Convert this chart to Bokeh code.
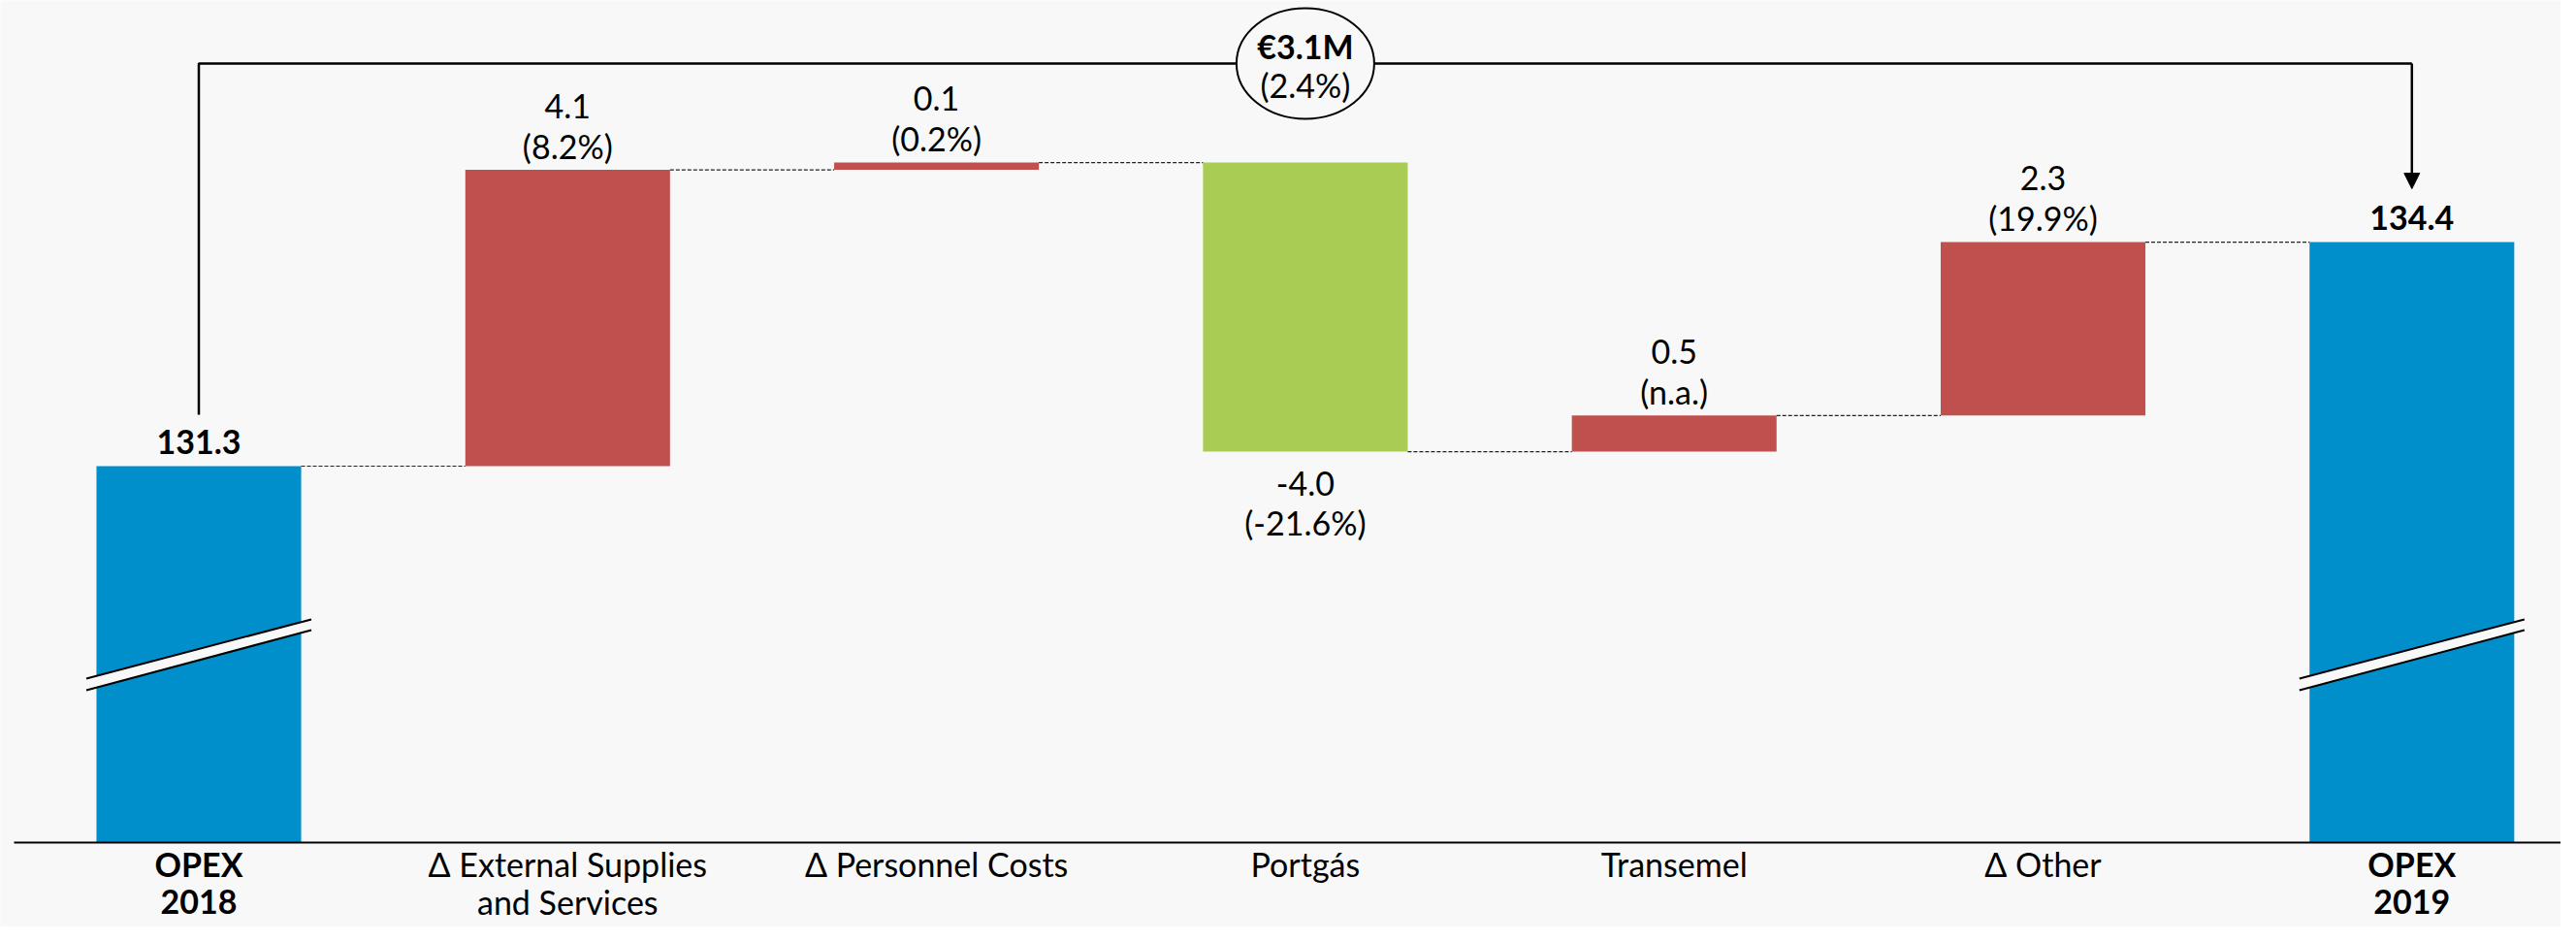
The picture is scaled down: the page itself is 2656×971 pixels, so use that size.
import numpy as np
from bokeh.plotting import figure
from bokeh.models import Range1d, Arrow, NormalHead, ColumnDataSource
from bokeh.core.properties import value
from bokeh.embed import file_html
from bokeh.resources import INLINE

# ---------------- data ----------------
cat_line1 = ["OPEX", "Δ External Supplies", "Δ Personnel Costs", "Portgás", "Transemel", "Δ Other", "OPEX"]
cat_line2 = ["2018", "and Services", "", "", "", "", "2019"]
cat_bold = [True, False, False, False, False, False, True]
opex_2018 = 131.3
opex_2019 = 134.4
deltas = [4.1, 0.1, -4.0, 0.5, 2.3]
delta_labels = ["4.1", "0.1", "-4.0", "0.5", "2.3"]
delta_pct_labels = ["(8.2%)", "(0.2%)", "(-21.6%)", "(n.a.)", "(19.9%)"]
total_labels = ["131.3", "134.4"]
change_value_label = "€3.1M"
change_pct_label = "(2.4%)"

# ---------------- layout / style ----------------
W, H = 2640, 955
X0 = 204.5          # screen px of first category centre
STEP = 380.3        # screen px between categories
PPU = 74.5          # screen px per EUR M
TOP_PX = 480        # screen px of OPEX 2018 top
BAR_W = 0.555
BG = "#f8f8f8"
BLUE = "#008fca"
RED = "#c0504d"
GREEN = "#a9cc55"
FONT = "Lato"
FS = "34px"

y_top = opex_2018 + TOP_PX / PPU
y_bot = y_top - H / PPU
base = y_top - 868 / PPU


def ypx(px):
    return y_top - px / PPU


def d(px):
    return px / PPU


p = figure(width=W, height=H,
           x_range=Range1d(-X0 / STEP, (W - X0) / STEP),
           y_range=Range1d(y_bot, y_top),
           x_axis_type=None, y_axis_type=None,
           output_backend="svg", toolbar_location=None,
           min_border=0, background_fill_color=BG, border_fill_color=BG,
           outline_line_color=None)
p.grid.visible = False

n = len(cat_line1)
xs = np.arange(n)

cum = [opex_2018]
for dl in deltas:
    cum.append(cum[-1] + dl)
cum[-1] = opex_2019  # reconcile rounding with reported total

bottoms = [base] + [min(cum[i], cum[i + 1]) for i in range(len(deltas))] + [base]
tops = [opex_2018] + [max(cum[i], cum[i + 1]) for i in range(len(deltas))] + [opex_2019]
colors = [BLUE] + [RED if dl >= 0 else GREEN for dl in deltas] + [BLUE]

src = ColumnDataSource(dict(left=xs - BAR_W / 2, right=xs + BAR_W / 2,
                            bottom=bottoms, top=tops, color=colors))
p.quad(left="left", right="right", bottom="bottom", top="top",
       fill_color="color", line_color=None, source=src)

# dashed connectors
p.segment(x0=[i + BAR_W / 2 for i in range(n - 1)],
          y0=[cum[i] for i in range(n - 1)],
          x1=[i + 1 - BAR_W / 2 for i in range(n - 1)],
          y1=[cum[i] for i in range(n - 1)],
          line_color="#222222", line_width=1.2, line_dash="4 2")

# axis baseline
p.segment(x0=[-X0 / STEP + 14 / STEP], y0=[base], x1=[(W - X0) / STEP], y1=[base],
          line_color="black", line_width=2)

# break marks on the total bars
for i in [0, n - 1]:
    L, R = i - 0.305, i + 0.305
    p.patch(x=[L, R, R, L], y=[base + d(169), base + d(230), base + d(219), base + d(157)],
            fill_color=BG, line_color=None)
    p.segment(x0=[L, L], y0=[base + d(169), base + d(157)],
              x1=[R, R], y1=[base + d(230), base + d(219)],
              line_color="black", line_width=2)


def txt(x, y, t, bold=False):
    p.text(x=x, y=y, text=t, text_font=value(FONT), text_font_size=FS,
           text_align="center", text_baseline="middle", text_color="black",
           text_font_style="bold" if bold else "normal")


# total labels
txt([0, n - 1], [opex_2018 + d(25), opex_2019 + d(25)], total_labels, bold=True)

# delta labels
vx, vy, px_, py_ = [], [], [], []
for k, dl in enumerate(deltas):
    i = k + 1
    if dl >= 0:
        vy.append(tops[i] + d(66))
        py_.append(tops[i] + d(25))
    else:
        vy.append(bottoms[i] - d(33))
        py_.append(bottoms[i] - d(73))
    vx.append(i)
    px_.append(i)
txt(vx, vy, delta_labels)
txt(px_, py_, delta_pct_labels)

# category labels
for i in range(n):
    txt([i], [ypx(890)], [cat_line1[i]], bold=cat_bold[i])
    if cat_line2[i]:
        txt([i], [ypx(929)], [cat_line2[i]], bold=cat_bold[i])

# bracket with total change
bracket_y = ypx(65)
p.line(x=[0, 0, n - 1], y=[opex_2018 + d(53), bracket_y, bracket_y],
       line_color="black", line_width=2.5)
p.add_layout(Arrow(end=NormalHead(size=16, fill_color="black", line_color="black"),
                   x_start=n - 1, y_start=bracket_y, x_end=n - 1, y_end=opex_2019 + d(55),
                   line_color="black", line_width=2.5))
mid = (n - 1) / 2
p.ellipse(x=[mid], y=[bracket_y], width=142, height=114,
          width_units="screen", height_units="screen",
          fill_color=BG, line_color="black", line_width=2)
txt([mid], [ypx(47)], [change_value_label], bold=True)
txt([mid], [ypx(87)], [change_pct_label])

open("out.html", "w").write(file_html(p, INLINE))
